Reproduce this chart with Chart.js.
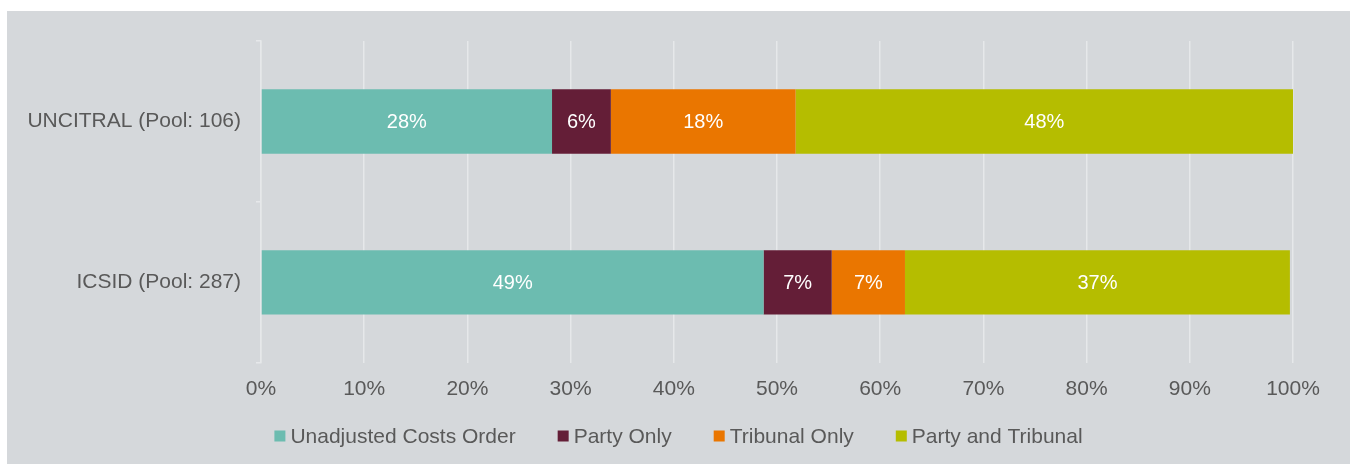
<!DOCTYPE html>
<html>
<head>
<meta charset="utf-8">
<script src="https://cdn.jsdelivr.net/npm/chart.js@4"></script>
<style>
    html, body { margin: 0; padding: 0; background: #fff; }
    #wrap {
        position: absolute;
        left: 7px;
        top: 11px;
        width: 1343px;
        height: 453px;
        background: #d5d8db;
    }
</style>
</head>
<body>
<div id="wrap"><canvas id="chart"></canvas></div>
<script>
// Data
const categories = ['UNCITRAL (Pool: 106)', 'ICSID (Pool: 287)'];
const seriesNames = ['Unadjusted Costs Order', 'Party Only', 'Tribunal Only', 'Party and Tribunal'];
const unadjusted = [28.2, 48.7];
const partyOnly = [5.7, 6.6];
const tribunalOnly = [17.9, 7.1];
const partyAndTribunal = [48.2, 37.3];
const xTicks = [0, 10, 20, 30, 40, 50, 60, 70, 80, 90, 100];

const colors = ['#6cbcb0', '#641e37', '#ea7600', '#b5bd00'];
const textColor = '#595959';
const gridColor = '#e6e8ea';
const fontFamily = '"Liberation Sans", Arial, sans-serif';

// Centered white value labels on each segment
const valueLabels = {
    id: 'valueLabels',
    afterDatasetsDraw(chart) {
        const ctx = chart.ctx;
        ctx.save();
        ctx.fillStyle = '#ffffff';
        ctx.font = '20px ' + fontFamily;
        ctx.textAlign = 'center';
        ctx.textBaseline = 'middle';
        chart.data.datasets.forEach((ds, i) => {
            chart.getDatasetMeta(i).data.forEach((bar, j) => {
                const cx = (bar.x + bar.base) / 2;
                ctx.fillText(Math.round(ds.data[j]) + '%', cx, bar.y + 1);
            });
        });
        ctx.restore();
    }
};

// Legend drawn by hand so spacing matches the source
const bottomLegend = {
    id: 'bottomLegend',
    afterDraw(chart) {
        const ctx = chart.ctx;
        const box = 11, gap = 5, itemGap = 42, y = 425;
        ctx.save();
        ctx.font = '21px ' + fontFamily;
        ctx.textBaseline = 'middle';
        const widths = seriesNames.map(n => ctx.measureText(n).width);
        const total = widths.reduce((a, w) => a + box + gap + w, 0) + itemGap * (seriesNames.length - 1);
        let x = (chart.width - total) / 2;
        seriesNames.forEach((name, i) => {
            ctx.fillStyle = colors[i];
            ctx.fillRect(x, y - box / 2, box, box);
            ctx.fillStyle = textColor;
            ctx.fillText(name, x + box + gap, y + 1);
            x += box + gap + widths[i] + itemGap;
        });
        ctx.restore();
    }
};

const seriesData = [unadjusted, partyOnly, tribunalOnly, partyAndTribunal];

new Chart(document.getElementById('chart'), {
    type: 'bar',
    data: {
        labels: categories,
        datasets: seriesNames.map((name, i) => ({
            label: name,
            data: seriesData[i],
            backgroundColor: colors[i],
            borderWidth: 0,
            barPercentage: 0.4,
            categoryPercentage: 1
        }))
    },
    options: {
        indexAxis: 'y',
        responsive: true,
        maintainAspectRatio: false,
        animation: false,
        layout: {
            padding: { top: 30, right: 57, bottom: 48, left: 0 }
        },
        plugins: {
            legend: { display: false },
            tooltip: { enabled: false }
        },
        scales: {
            x: {
                stacked: true,
                min: 0,
                max: 100,
                afterBuildTicks: (axis) => {
                    axis.ticks = xTicks.map(v => ({ value: v }));
                },
                grid: {
                    color: gridColor,
                    lineWidth: 1.5,
                    drawTicks: false
                },
                border: { display: false },
                ticks: {
                    padding: 14,
                    color: textColor,
                    font: { size: 21, family: fontFamily },
                    callback: (v) => v + '%'
                }
            },
            y: {
                stacked: true,
                afterFit: (axis) => { axis.width = 254; },
                grid: {
                    drawOnChartArea: false,
                    drawTicks: true,
                    tickLength: 5,
                    color: gridColor,
                    lineWidth: 1.5
                },
                border: { color: gridColor, width: 1.5 },
                ticks: {
                    padding: 15,
                    color: textColor,
                    font: { size: 21, family: fontFamily }
                }
            }
        }
    },
    plugins: [valueLabels, bottomLegend]
});
</script>
</body>
</html>
